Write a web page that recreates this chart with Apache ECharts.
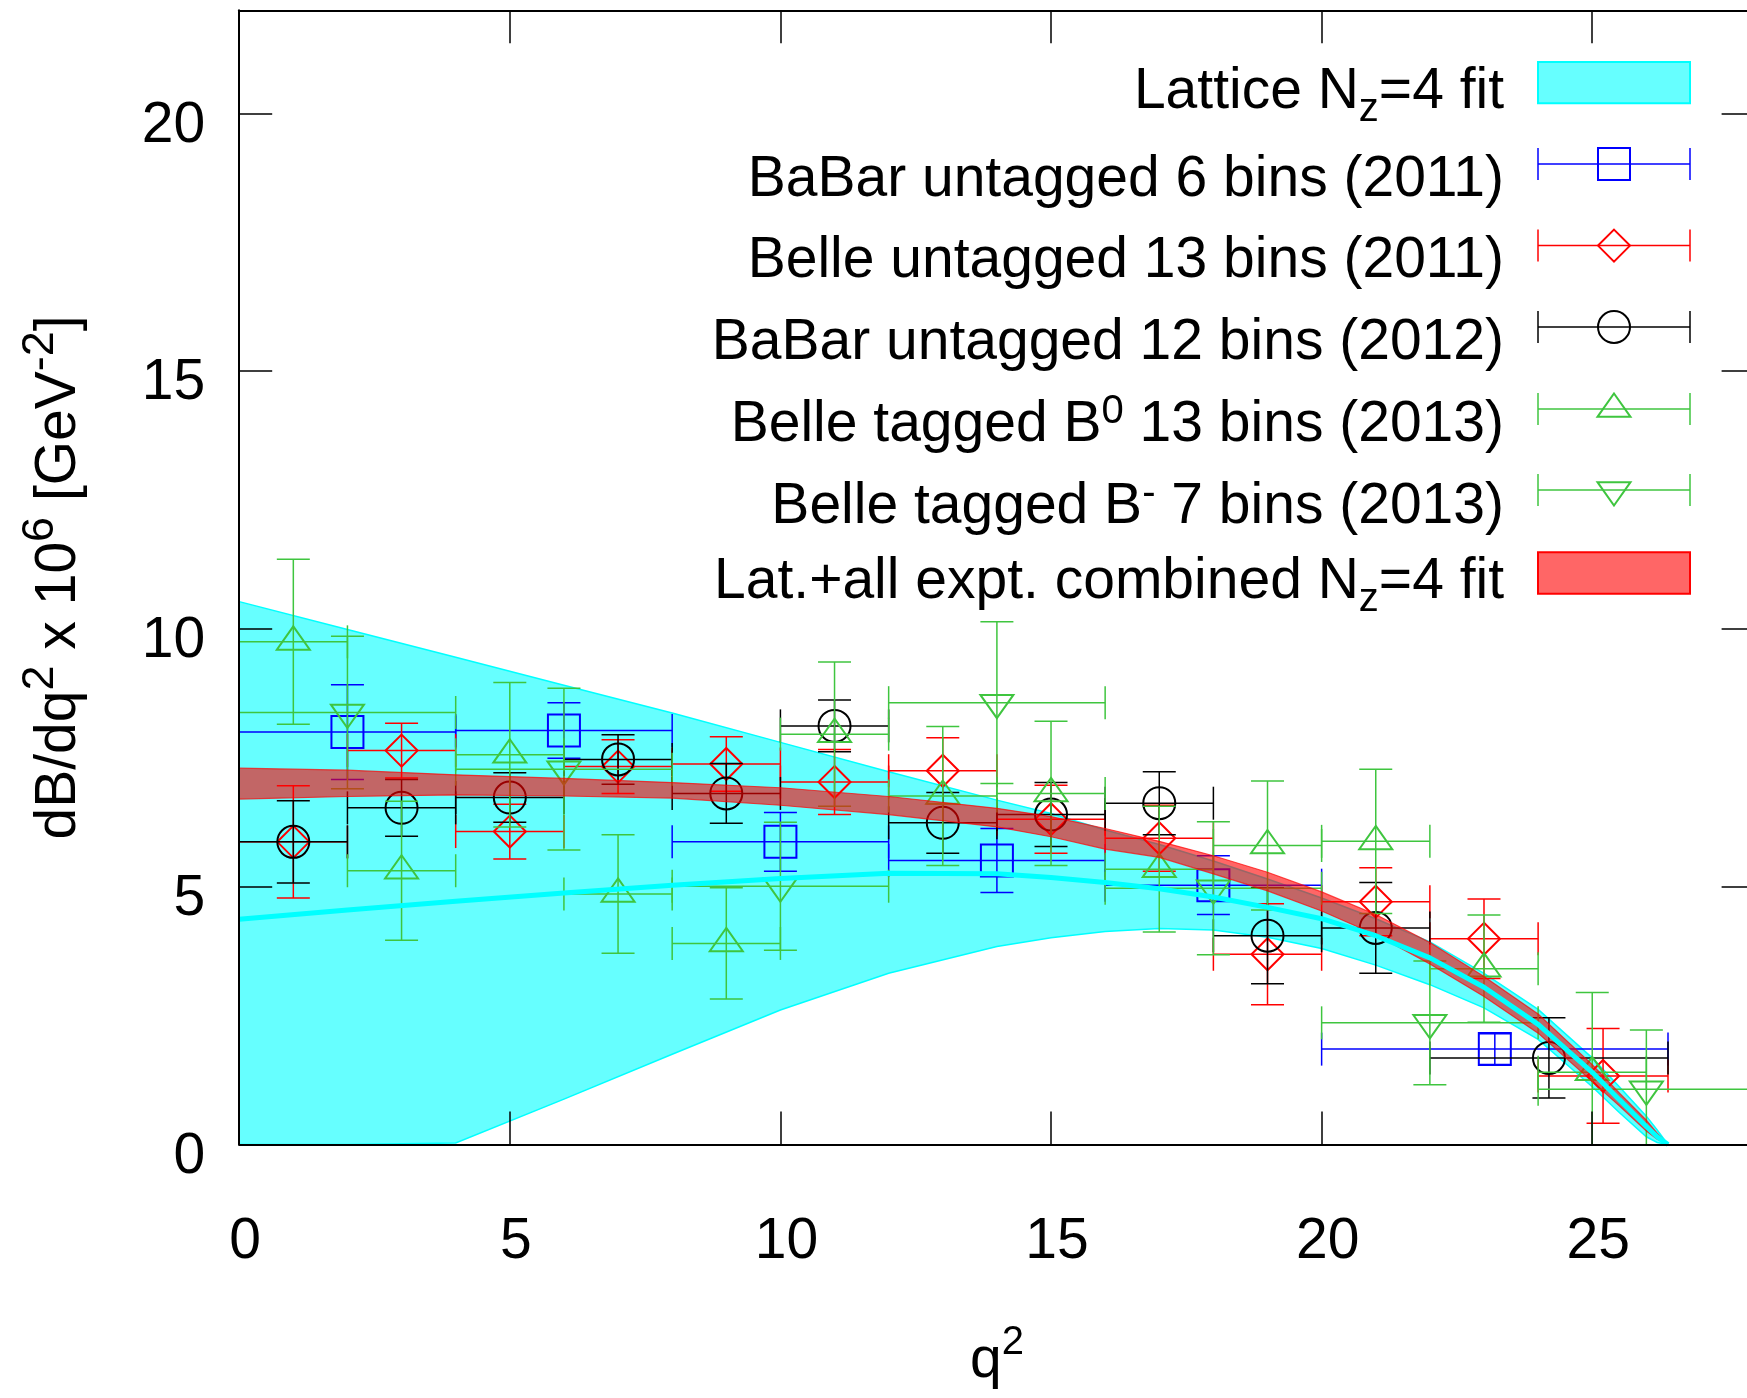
<!DOCTYPE html>
<html>
<head>
<meta charset="utf-8">
<script src="https://cdn.jsdelivr.net/npm/echarts@6.0.0/dist/echarts.min.js"></script>
<style>
  html, body { margin: 0; padding: 0; background: #fff; }
  #chart { width: 1747px; height: 1398px; }
</style>
</head>
<body>
<div id="chart"></div>
<script>
'use strict';

// q^2 grid on which the two fit bands were read
const qGrid   = [0, 2, 4, 6, 8, 10, 12, 14, 15, 16, 17, 18, 19, 20, 21, 22, 23, 24, 25, 25.5, 26, 26.2, 26.4];
// lattice N_z=4 fit (cyan): upper edge, lower edge, central value
const latHi   = [10.53, 9.99, 9.45, 8.91, 8.37, 7.80, 7.23, 6.68, 6.42, 6.10, 5.82, 5.50, 5.15, 4.78, 4.38, 3.93, 3.32, 2.62, 1.68, 1.12, 0.55, 0.28, 0];
const latLo   = [-1.77, -0.88, 0.03, 0.88, 1.75, 2.61, 3.32, 3.84, 4.01, 4.13, 4.19, 4.16, 4.02, 3.80, 3.48, 3.10, 2.65, 2.04, 1.12, 0.62, 0.15, 0.04, 0];
const latMid  = [4.37, 4.55, 4.72, 4.88, 5.03, 5.16, 5.26, 5.25, 5.18, 5.08, 4.96, 4.80, 4.60, 4.38, 4.05, 3.62, 3.05, 2.33, 1.40, 0.87, 0.35, 0.15, 0];
// lattice + all experiments combined fit (red)
const combHi  = [7.30, 7.26, 7.17, 7.10, 7.02, 6.92, 6.75, 6.52, 6.36, 6.13, 5.88, 5.60, 5.28, 4.90, 4.46, 3.92, 3.26, 2.53, 1.55, 1.00, 0.47, 0.22, 0];
const combLo  = [6.70, 6.75, 6.78, 6.76, 6.72, 6.58, 6.40, 6.16, 5.97, 5.73, 5.57, 5.25, 4.92, 4.53, 4.07, 3.50, 2.87, 2.16, 1.22, 0.75, 0.26, 0.10, 0];

// BaBar untagged 6 bins (2011)
const babar6Lo  = [0, 4, 8, 12, 16, 20];
const babar6Hi  = [4, 8, 12, 16, 20, 26.4];
const babar6Val = [8.00, 8.03, 5.87, 5.51, 5.03, 1.85];
const babar6Err = [0.92, 0.54, 0.57, 0.62, 0.57, 0.30];

// Belle untagged 13 bins (2011)
const belle13Lo  = [0, 2, 4, 6, 8, 10, 12, 14, 16, 18, 20, 22, 24];
const belle13Hi  = [2, 4, 6, 8, 10, 12, 14, 16, 18, 20, 22, 24, 26.4];
const belle13Val = [5.87, 7.64, 6.07, 7.33, 7.38, 7.03, 7.25, 6.31, 5.94, 3.69, 4.71, 3.99, 1.33];
const belle13Err = [1.09, 0.53, 0.53, 0.52, 0.53, 0.63, 0.64, 0.66, 0.64, 0.98, 0.66, 0.77, 0.92];

// BaBar untagged 12 bins (2012)
const babar12Lo  = [0, 2, 4, 6, 8, 10, 12, 14, 16, 18, 20, 22];
const babar12Hi  = [2, 4, 6, 8, 10, 12, 14, 16, 18, 20, 22, 26.4];
const babar12Val = [5.87, 6.53, 6.73, 7.47, 6.81, 8.12, 6.24, 6.40, 6.62, 4.05, 4.20, 1.68];
const babar12Err = [0.80, 0.55, 0.48, 0.48, 0.58, 0.50, 0.59, 0.62, 0.61, 0.93, 0.88, 0.78];

// Belle tagged B0 13 bins (2013)
const belleB0Lo  = [0, 2, 4, 6, 8, 10, 12, 14, 16, 18, 20, 22, 24];
const belleB0Hi  = [2, 4, 6, 8, 10, 12, 14, 16, 18, 20, 22, 24, 26];
const belleB0Val = [9.75, 5.31, 7.56, 4.86, 3.90, 7.96, 6.76, 6.81, 5.34, 5.80, 5.88, 3.41, 1.40];
const belleB0Err = [1.60, 1.35, 1.40, 1.15, 1.08, 1.40, 1.35, 1.40, 1.22, 1.25, 1.40, 1.04, 1.55];

// Belle tagged B- 7 bins (2013)
const belleBmLo  = [0, 4, 8, 12, 16, 20, 24];
const belleBmHi  = [4, 8, 12, 16, 20, 24, 28];
const belleBmVal = [8.38, 7.28, 5.01, 8.57, 4.97, 2.36, 1.07];
const belleBmErr = [1.48, 1.57, 1.24, 1.57, 1.29, 1.20, 1.15];

const xTicks = [0, 5, 10, 15, 20, 25];
const yTicks = [0, 5, 10, 15, 20];

const legendLabels = [
    '{m|Lattice N}{sb|z}{m|=4 fit}',
    '{m|BaBar untagged 6 bins (2011)}',
    '{m|Belle untagged 13 bins (2011)}',
    '{m|BaBar untagged 12 bins (2012)}',
    '{m|Belle tagged B}{sp|0}{m| 13 bins (2013)}',
    '{m|Belle tagged B}{sp|-}{m| 7 bins (2013)}',
    '{m|Lat.+all expt. combined N}{sb|z}{m|=4 fit}'
];

const FONT = '"Liberation Sans", Arial, Helvetica, sans-serif';
const FS = 57;
const BLUE = '#0000ff', RED = '#ff0000', BLACK = '#000000', GREEN = '#3fc53f', CYAN = '#00ffff';
const CAP = 16.5;

function rows(lo, hi, val, err) {
    return val.map(function (v, i) {
        return [(lo[i] + hi[i]) / 2, v, lo[i], hi[i], err[i]];
    });
}

// open gnuplot-like point symbols
function marker(kind, x, y, color) {
    const st = {fill: 'none', stroke: color, lineWidth: 2};
    switch (kind) {
        case 'square':
            return {type: 'rect', shape: {x: x - 16, y: y - 16, width: 32, height: 32}, style: st};
        case 'diamond':
            return {type: 'polygon', shape: {points: [[x, y - 16], [x + 16, y], [x, y + 16], [x - 16, y]]}, style: st};
        case 'circle':
            return {type: 'circle', shape: {cx: x, cy: y, r: 16}, style: st};
        case 'up':
            return {type: 'polygon', shape: {points: [[x, y - 15.5], [x + 16.5, y + 7.8], [x - 16.5, y + 7.8]]}, style: st};
        default:
            return {type: 'polygon', shape: {points: [[x, y + 15.5], [x + 16.5, y - 7.8], [x - 16.5, y - 7.8]]}, style: st};
    }
}

function seg(x1, y1, x2, y2, color) {
    return {type: 'line', shape: {x1: x1, y1: y1, x2: x2, y2: y2}, style: {stroke: color, lineWidth: 1.5}};
}

function errorBars(kind, color) {
    return function (params, api) {
        const bottom = params.coordSys.y + params.coordSys.height;
        const y = api.value(1), err = api.value(4);
        const c = api.coord([api.value(0), y]);
        const l = api.coord([api.value(2), y]);
        const r = api.coord([api.value(3), y]);
        const t = api.coord([api.value(0), y + err]);
        const b = api.coord([api.value(0), y - err]);
        const kids = [
            seg(l[0], c[1], r[0], c[1], color),
            seg(l[0], c[1] - CAP, l[0], c[1] + CAP, color),
            seg(r[0], c[1] - CAP, r[0], c[1] + CAP, color),
            seg(c[0], t[1], c[0], Math.min(b[1], bottom), color),
            seg(c[0] - CAP, t[1], c[0] + CAP, t[1], color)
        ];
        if (b[1] <= bottom) {
            kids.push(seg(c[0] - CAP, b[1], c[0] + CAP, b[1], color));
        }
        kids.push(marker(kind, c[0], c[1], color));
        return {type: 'group', children: kids};
    };
}

function band(lo, hi, fill, edge, edgeWidth) {
    return function (params, api) {
        if (params.dataIndex !== 0) {
            return null;
        }
        const bottom = params.coordSys.y + params.coordSys.height;
        const up = qGrid.map(function (q, i) { return api.coord([q, hi[i]]); });
        const dn = qGrid.map(function (q, i) {
            const p = api.coord([q, lo[i]]);
            return [p[0], Math.min(p[1], bottom)];
        });
        return {
            type: 'group',
            children: [
                {type: 'polygon', shape: {points: up.concat(dn.slice().reverse())}, style: {fill: fill}},
                {type: 'polyline', shape: {points: up}, style: {fill: 'none', stroke: edge, lineWidth: edgeWidth}},
                {type: 'polyline', shape: {points: dn}, style: {fill: 'none', stroke: edge, lineWidth: edgeWidth}}
            ]
        };
    };
}

function dataSeries(name, kind, color, data) {
    return {
        name: name, type: 'custom', silent: true,
        renderItem: errorBars(kind, color),
        encode: {x: [0, 2, 3], y: 1},
        data: data
    };
}

// legend, drawn as graphics to mimic the gnuplot key
const legendTextX = 1504, iconX0 = 1538, iconX1 = 1690;
const legendTextY = [92.5, 180.5, 261.5, 343.5, 425, 507.5, 582];
const legendIconY = [82.6, 164, 245.6, 327, 409, 490, 573];
const legendIcons = [null, ['square', BLUE], ['diamond', RED], ['circle', BLACK], ['up', GREEN], ['down', GREEN], null];

const legendRich = {
    m: {fontSize: FS, fontFamily: FONT, fill: '#000', lineHeight: 75},
    sb: {fontSize: 40, fontFamily: FONT, fill: '#000', lineHeight: 40, verticalAlign: 'bottom'},
    sp: {fontSize: 40, fontFamily: FONT, fill: '#000', lineHeight: 40, verticalAlign: 'top'}
};

const graphic = [];
legendLabels.forEach(function (txt, i) {
    const rich = JSON.parse(JSON.stringify(legendRich));
    rich.m.lineHeight = txt.indexOf('{sp|') >= 0 ? 67 : 75;
    graphic.push({
        type: 'text', x: legendTextX, y: legendTextY[i], silent: true,
        style: {text: txt, align: 'right', verticalAlign: 'middle', fontSize: FS, fontFamily: FONT, fill: '#000', rich: rich}
    });
    const yc = legendIconY[i];
    if (legendIcons[i]) {
        const col = legendIcons[i][1];
        graphic.push(seg(iconX0, yc, iconX1, yc, col));
        graphic.push(seg(iconX0, yc - 16, iconX0, yc + 16, col));
        graphic.push(seg(iconX1, yc - 16, iconX1, yc + 16, col));
        graphic.push(marker(legendIcons[i][0], (iconX0 + iconX1) / 2, yc, col));
    } else {
        const isLat = i === 0;
        graphic.push({
            type: 'rect', silent: true,
            shape: {x: iconX0, y: yc - 20.7, width: iconX1 - iconX0, height: 41.4},
            style: {fill: isLat ? 'rgba(0,255,255,0.6)' : 'rgba(255,0,0,0.6)', stroke: isLat ? CYAN : RED, lineWidth: 2}
        });
    }
});

const axisCommon = {
    type: 'value', z: 10,
    axisLine: {show: true, onZero: false, lineStyle: {color: '#000', width: 2}},
    axisTick: {show: true, inside: true, length: 33, lineStyle: {color: '#000', width: 1.5}},
    splitLine: {show: false}
};

function ax(extra) {
    return Object.assign({}, JSON.parse(JSON.stringify(axisCommon)), extra);
}

const chart = echarts.init(document.getElementById('chart'), null, {renderer: 'canvas'});
chart.setOption({
    animation: false,
    backgroundColor: '#fff',
    grid: {left: 239.2, top: 10.3, right: -7.6, bottom: 253.5, outerBoundsMode: 'none', containLabel: false},
    xAxis: [
        ax({
            position: 'bottom', min: xTicks[0], max: 28, interval: xTicks[1] - xTicks[0],
            axisLabel: {
                show: true, showMaxLabel: false, margin: 69, padding: [0, 0, 0, 12],
                fontSize: FS, fontFamily: FONT, color: '#000'
            },
            name: '{m|q}{sp|2}', nameLocation: 'middle', nameGap: 178,
            nameTextStyle: {
                fontSize: FS, fontFamily: FONT, color: '#000',
                rich: {
                    m: {fontSize: FS, fontFamily: FONT, color: '#000', lineHeight: 77},
                    sp: {fontSize: 40, fontFamily: FONT, color: '#000', lineHeight: 40, verticalAlign: 'top'}
                }
            }
        }),
        ax({position: 'top', min: 0, max: 28, interval: 5, axisLabel: {show: false}})
    ],
    yAxis: [
        ax({
            position: 'left', min: yTicks[0], max: 22, interval: yTicks[1] - yTicks[0],
            axisLabel: {
                show: true, showMaxLabel: false, margin: 34,
                formatter: function (v) { return '{a|' + v + '}'; },
                rich: {a: {fontSize: FS, fontFamily: FONT, color: '#000', padding: [25, 0, 0, 0]}},
                fontSize: FS, fontFamily: FONT, color: '#000'
            },
            name: '{m|dB/dq}{sp|2}{m| x 10}{sp|6}{m| [GeV}{sp|-2}{m|]}',
            nameLocation: 'middle', nameRotate: 90, nameGap: 138,
            nameTextStyle: {
                fontSize: FS, fontFamily: FONT, color: '#000',
                rich: {
                    m: {fontSize: FS, fontFamily: FONT, color: '#000', lineHeight: 83},
                    sp: {fontSize: 45, fontFamily: FONT, color: '#000', lineHeight: 45, verticalAlign: 'top'}
                }
            }
        }),
        ax({position: 'right', min: 0, max: 22, interval: 5, axisLabel: {show: false}})
    ],
    graphic: graphic,
    series: [
        {
            name: 'Lattice band', type: 'custom', silent: true,
            renderItem: band(latLo, latHi, 'rgba(0,255,255,0.6)', CYAN, 1.5),
            encode: {x: 0, y: [1, 2]},
            data: qGrid.map(function (q, i) { return [q, latLo[i], latHi[i]]; })
        },
        {
            name: 'Lattice central', type: 'line', silent: true, symbol: 'none', clip: true,
            lineStyle: {color: CYAN, width: 5},
            data: qGrid.map(function (q, i) { return [q, latMid[i]]; })
        },
        dataSeries('BaBar 6', 'square', BLUE, rows(babar6Lo, babar6Hi, babar6Val, babar6Err)),
        dataSeries('Belle 13', 'diamond', RED, rows(belle13Lo, belle13Hi, belle13Val, belle13Err)),
        dataSeries('BaBar 12', 'circle', BLACK, rows(babar12Lo, babar12Hi, babar12Val, babar12Err)),
        dataSeries('Belle B0', 'up', GREEN, rows(belleB0Lo, belleB0Hi, belleB0Val, belleB0Err)),
        dataSeries('Belle B-', 'down', GREEN, rows(belleBmLo, belleBmHi, belleBmVal, belleBmErr)),
        {
            name: 'Combined band', type: 'custom', silent: true,
            renderItem: band(combLo, combHi, 'rgba(255,0,0,0.6)', 'rgba(255,0,0,0.7)', 1.2),
            encode: {x: 0, y: [1, 2]},
            data: qGrid.map(function (q, i) { return [q, combLo[i], combHi[i]]; })
        }
    ]
});
</script>
</body>
</html>
